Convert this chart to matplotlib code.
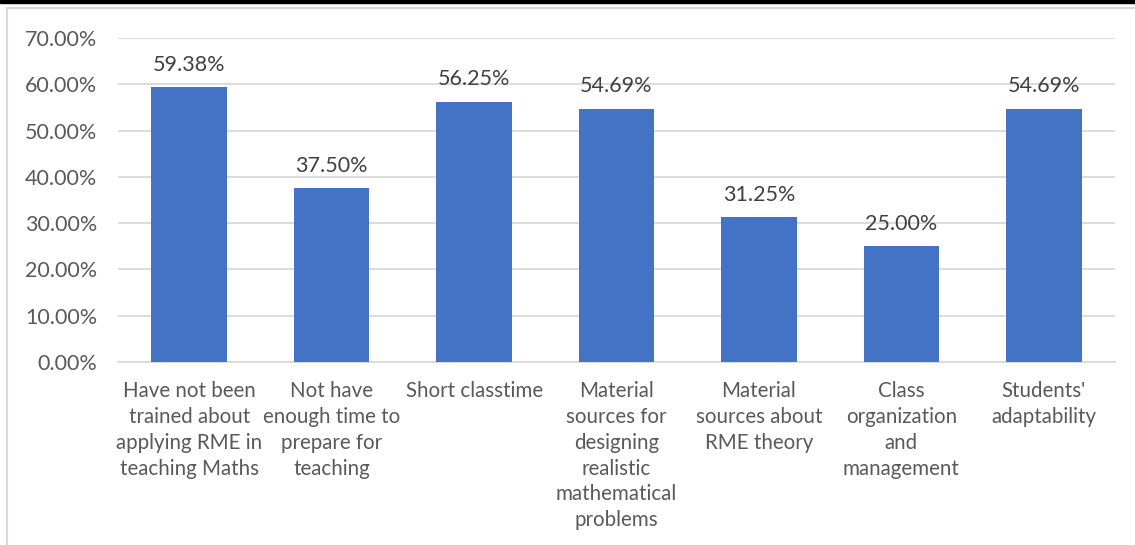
import matplotlib.pyplot as plt
from matplotlib.lines import Line2D
from matplotlib.patches import Rectangle
import numpy as np

categories = [
    "Have not been\ntrained about\napplying RME in\nteaching Maths",
    "Not have\nenough time to\nprepare for\nteaching",
    "Short classtime",
    "Material\nsources for\ndesigning\nrealistic\nmathematical\nproblems",
    "Material\nsources about\nRME theory",
    "Class\norganization\nand\nmanagement",
    "Students'\nadaptability",
]
values = [59.38, 37.50, 56.25, 54.69, 31.25, 25.00, 54.69]
yticks = [0, 10, 20, 30, 40, 50, 60, 70]

text_color = "#595959"
bar_color = "#4472C4"
grid_color = "#D9D9D9"
font = "Lato"

fig = plt.figure(figsize=(11.35, 5.45), dpi=100)
ax = fig.add_axes([118 / 1135, 1 - 362 / 545, (1115 - 118) / 1135, (362 - 38) / 545])

x = np.arange(len(categories))
ax.bar(x, values, width=0.53, color=bar_color, zorder=3)

for xi, v in zip(x, values):
    ax.text(xi, v + 2.7, f"{v:.2f}%", ha="center", va="bottom",
            fontsize=15.5, color="#404040", family=font)

ax.set_xlim(-0.5, len(categories) - 0.5)
ax.set_ylim(0, 70)
ax.set_yticks(yticks)
ax.set_yticklabels([f"{t:.2f}%" for t in yticks], fontsize=15.5, color=text_color, family=font)
ax.set_xticks(x)
ax.set_xticklabels(categories, fontsize=14.8, color=text_color, family=font,
                   va="top", linespacing=1.36)
ax.tick_params(axis="both", length=0)
ax.tick_params(axis="y", pad=15)
ax.tick_params(axis="x", pad=14)
ax.yaxis.grid(True, color=grid_color, linewidth=1.3, zorder=0)
for s in ["top", "right", "left"]:
    ax.spines[s].set_visible(False)
ax.spines["bottom"].set_color(grid_color)
ax.spines["bottom"].set_linewidth(1.3)

# frame bits of the cropped screenshot
fig.patches.append(Rectangle((0, 1 - 3 / 545), 1, 3 / 545, transform=fig.transFigure,
                             color="black", zorder=10))
fig.lines.append(Line2D([7 / 1135, 1], [1 - 8 / 545] * 2, transform=fig.transFigure,
                        color=grid_color, linewidth=1.5))
fig.lines.append(Line2D([7 / 1135] * 2, [0, 1 - 8 / 545], transform=fig.transFigure,
                        color=grid_color, linewidth=1.5))

fig.savefig("out.png", dpi=100)
